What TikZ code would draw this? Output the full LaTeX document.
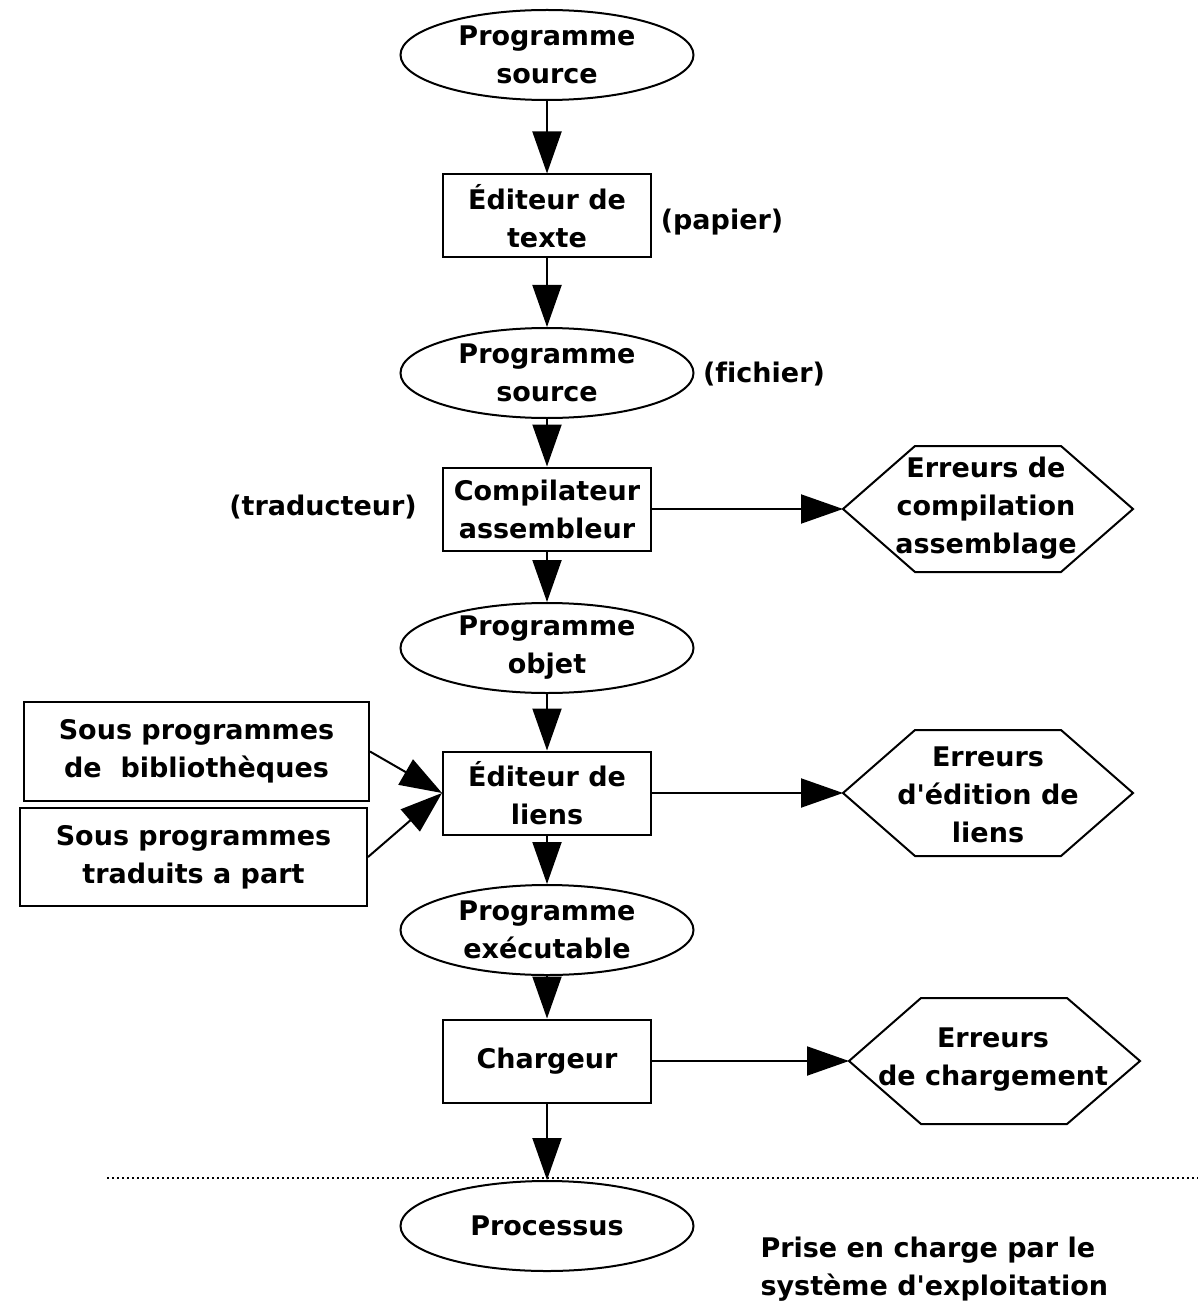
\documentclass[tikz,border=0pt]{standalone}
\usepackage{fontspec}
\setmainfont{DejaVu Sans}[Ligatures=NoCommon]
\usetikzlibrary{shapes.geometric,arrows.meta}

\tikzset{
  every node/.style={font=\fontsize{27}{38}\selectfont\bfseries, align=center},
  box/.style={draw, line width=2pt, minimum width=208pt, minimum height=83pt, inner sep=0pt},
  sidebox/.style={draw, line width=2pt, minimum width=346pt, minimum height=98pt, inner sep=0pt},
  oval/.style={draw, ellipse, line width=2pt, minimum width=293pt, minimum height=90pt, inner sep=0pt},
  hexline/.style={line width=2pt, line join=miter},
  flow/.style={line width=2pt, -{Triangle[length=42pt,width=29pt]}},
  boundary/.style={line width=2pt, dash pattern=on 2pt off 3pt},
}

\begin{document}
\begin{tikzpicture}[x=1pt, y=-1pt]
  \useasboundingbox (0,0) rectangle (1198,1305);

  % main chain
  \node[oval, label={center:{Programme\\source}}] (src1) at (547,55) {};
  \node[box] (edit) at (547,216) {Éditeur de\\texte};
  \node[oval, label={center:{Programme\\source}}] (src2) at (547,373) {};
  \node[box] (comp) at (547,509) {Compilateur\\assembleur};
  \node[oval, label={center:{Programme\\objet}}] (obj) at (547,648) {};
  \node[box] (links) at (547,793) {Éditeur de\\liens};
  \node[oval, label={center:{Programme\\exécutable}}] (exe) at (547,930) {};
  \node[box] (load) at (547,1061) {Chargeur};
  \node[oval, label={center:Processus}] (proc) at (547,1226) {};

  % side notes
  \node (paper) at (722,222) {(papier)};
  \node (file) at (764,374) {(fichier)};
  \node (transl) at (323,507) {(traducteur)};
  \node[anchor=west, align=left] (os) at (757,1269) {Prise en charge par le\\système d\textquotesingle exploitation};

  % library inputs
  \node[sidebox, minimum width=345pt, minimum height=99pt] (lib) at (196.5,751.5) {Sous programmes\\de~~bibliothèques};
  \node[sidebox, minimum width=347pt] (trad) at (193.5,857) {Sous programmes\\traduits a part};

  % error hexagons
  \node (err1) at (986,508) {Erreurs de\\compilation\\assemblage};
  \draw[hexline] (988,509) +(-145,0) -- +(-73,-63) -- +(73,-63) -- +(145,0) -- +(73,63) -- +(-73,63) -- cycle;
  \coordinate (err1tip) at (843,509);

  \node (err2) at (988,795) {Erreurs\\d\textquotesingle édition de\\liens};
  \draw[hexline] (988,793) +(-145,0) -- +(-73,-63) -- +(73,-63) -- +(145,0) -- +(73,63) -- +(-73,63) -- cycle;
  \coordinate (err2tip) at (843,793);

  \node (err3) at (993,1060) {Erreurs\\de chargement};
  \draw[hexline] (994,1061) +(-145,0) -- +(-73,-63) -- +(73,-63) -- +(146,0) -- +(73,63) -- +(-73,63) -- cycle;
  \coordinate (err3tip) at (849,1061);

  % flow arrows
  \draw[flow] (src1.south) -- (edit.north);
  \draw[flow] (edit.south) -- (src2.north);
  \draw[flow] (src2.south) -- (comp.north);
  \draw[flow] (comp.south) -- (obj.north);
  \draw[flow] (obj.south) -- (links.north);
  \draw[flow] (links.south) -- (exe.north);
  \draw[flow] (exe.south) -- (load.north);
  \draw[flow] (load.south) -- (proc.north);

  \draw[flow] (comp.east) -- (err1tip);
  \draw[flow] (links.east) -- (err2tip);
  \draw[flow] (load.east) -- (err3tip);

  \draw[flow] (lib.east) -- (links.west);
  \draw[flow] (trad.east) -- (links.west);

  % operating system boundary
  \coordinate (bl) at (107,1178);
  \coordinate (br) at (1198,1178);
  \draw[boundary] (bl) -- (br);
\end{tikzpicture}
\end{document}
